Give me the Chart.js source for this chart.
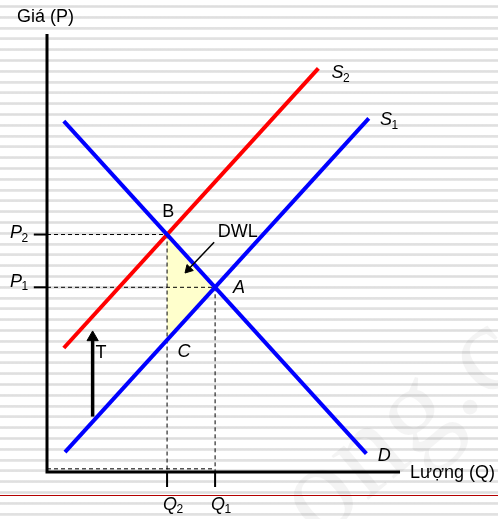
<!DOCTYPE html>
<html>
<head>
<meta charset="utf-8">
<script src="https://cdn.jsdelivr.net/npm/chart.js@4.4.0/dist/chart.umd.min.js"></script>
<style>
  html, body { margin: 0; padding: 0; }
  body {
    width: 498px; height: 519px; overflow: hidden;
    background: repeating-linear-gradient(180deg, #fff 0px, #fff 5px, #e9e9e9 5px, #dedede 6.5px, #e9e9e9 8px, #fff 8px, #fff 10.8px);
  }
  #wrap { position: relative; width: 498px; height: 519px; }
</style>
</head>
<body>
<div id="wrap"><canvas id="tax-chart"></canvas></div>
<script>
// values (arbitrary units, Q across, P up)
const demandQ = [0.7, 13.3];
const demandP = [13.3, 0.7];
const supply1Q = [0.75, 13.4];
const supply1P = [0.75, 13.4];
const supply2Q = [0.7, 11.3];
const supply2P = [4.7, 15.3];

const quantities = [5, 7];   // Q2, Q1
const prices = [9, 7];       // P2, P1
const priceC = 5;            // point C (S1 at Q2)

const taxQ = 1.9;            // T arrow
const taxP = [2.1, 5.1];
const dwlArrowQ = [6.96, 5.89];
const dwlArrowP = [8.71, 7.68];

const qMax = 14.7;
const pMax = 16.6;

const pts = (xs, ys) => xs.map((x, i) => ({ x: x, y: ys[i] }));
const FONT = '"Liberation Sans", Arial, sans-serif';

function seg(data, color, width, dash) {
    return {
        data: data,
        borderColor: color,
        borderWidth: width,
        borderDash: dash || [],
        fill: false,
        clip: false,
        pointRadius: 0
    };
}

const [Q2, Q1] = quantities;
const [P2, P1] = prices;

const datasets = [
    // arrows
    Object.assign(seg(pts([taxQ, taxQ], taxP), "#000", 3.5), {
        pointRadius: [0, 6.5], pointStyle: "triangle", pointRotation: 0,
        pointBackgroundColor: "#000", pointBorderColor: "#000", pointBorderWidth: 1
    }),
    Object.assign(seg(pts(dwlArrowQ, dwlArrowP), "#000", 1.5), {
        pointRadius: [0, 5], pointStyle: "triangle", pointRotation: 223,
        pointBackgroundColor: "#000", pointBorderColor: "#000", pointBorderWidth: 1
    }),
    // curves
    seg(pts(demandQ, demandP), "#0000ff", 4),
    seg(pts(supply1Q, supply1P), "#0000ff", 4),
    seg(pts(supply2Q, supply2P), "#ff0000", 4),
    // little ticks on the axes
    seg(pts([-0.55, 0], [P2, P2]), "#000", 2),
    seg(pts([-0.55, 0], [P1, P1]), "#000", 2),
    seg(pts([Q2, Q2], [0, -0.57]), "#000", 2),
    seg(pts([Q1, Q1], [0, -0.57]), "#000", 2),
    // dashed guides
    seg(pts([0, Q2], [P2, P2]), "#000", 1, [4, 3]),
    seg(pts([0, Q1], [P1, P1]), "#000", 1, [4, 3]),
    seg(pts([Q2, Q2], [P2, 0]), "#000", 1, [4, 3]),
    seg(pts([Q1, Q1], [P1, 0]), "#000", 1, [4, 3]),
    seg(pts([0, Q1], [0.12, 0.12]), "#000", 1, [4, 3]),
    // axes
    Object.assign(seg([{ x: 0, y: pMax }, { x: 0, y: 0 }, { x: qMax, y: 0 }], "#000", 3), {
        borderJoinStyle: "miter"
    }),
    // deadweight loss triangle B-A-C
    Object.assign(seg(pts(quantities, prices), "rgba(0,0,0,0)", 0), {
        fill: "+1", backgroundColor: "#ffffcc"
    }),
    seg(pts(quantities, [priceC, P1]), "rgba(0,0,0,0)", 0)
];

// text on the diagram, anchored in data units
const labelSpots = [
    { text: "Giá (P)", q: -1.25, p: 17.23, align: "left" },
    { text: "Lượng (Q)", q: 15.12, p: -0.04, align: "left" },
    { text: "B", q: 5.05, p: 9.85 },
    { text: "DWL", q: 7.94, p: 9.11 },
    { text: "A", q: 8.0, p: 6.97, italic: true },
    { text: "C", q: 5.71, p: 4.55, italic: true },
    { text: "T", q: 2.25, p: 4.5 },
    { text: "D", q: 14.04, p: 0.6, italic: true },
    { text: "S", sub: "2", q: 12.1, p: 15.11, italic: true },
    { text: "S", sub: "1", q: 14.12, p: 13.33, italic: true },
    { text: "P", sub: "2", q: -1.29, p: 9.05, italic: true },
    { text: "P", sub: "1", q: -1.29, p: 7.2, italic: true },
    { text: "Q", sub: "2", q: 5.12, p: -1.25, italic: true },
    { text: "Q", sub: "1", q: 7.12, p: -1.25, italic: true }
];

const backdrop = {
    id: "backdrop",
    beforeDraw(chart) {
        const ctx = chart.ctx;
        ctx.save();
        // faint watermark
        ctx.translate(318, 542);
        ctx.rotate(-40 * Math.PI / 180);
        ctx.font = '125px "Liberation Serif", serif';
        ctx.fillStyle = "rgba(0,0,0,0.045)";
        ctx.textBaseline = "alphabetic";
        ctx.fillText("ong.c", 0, 0);
        ctx.restore();
        // thin red rule under the axis
        ctx.save();
        ctx.fillStyle = "#b40000";
        ctx.fillRect(0, chart.height - 24, chart.width, 1);
        ctx.restore();
    }
};

const diagramText = {
    id: "diagramText",
    afterDatasetsDraw(chart) {
        const ctx = chart.ctx;
        const xs = chart.scales.x, ys = chart.scales.y;
        ctx.save();
        ctx.fillStyle = "#000";
        ctx.textBaseline = "middle";
        labelSpots.forEach(l => {
            const x = xs.getPixelForValue(l.q);
            const y = ys.getPixelForValue(l.p);
            ctx.font = (l.italic ? "italic " : "") + "18px " + FONT;
            const w = ctx.measureText(l.text).width;
            const left = l.align === "left" ? x : x - w / 2;
            ctx.textAlign = "left";
            ctx.fillText(l.text, left, y);
            if (l.sub) {
                ctx.font = "12px " + FONT;
                ctx.fillText(l.sub, left + w - 0.5, y + 5);
            }
        });
        ctx.restore();
    }
};

new Chart("tax-chart", {
    type: "line",
    data: { datasets: datasets },
    options: {
        responsive: true,
        maintainAspectRatio: false,
        animation: false,
        events: [],
        layout: { padding: { left: 47, top: 34, right: 98, bottom: 47 } },
        scales: {
            x: { type: "linear", min: 0, max: qMax, display: false },
            y: { type: "linear", min: 0, max: pMax, display: false }
        },
        elements: { line: { tension: 0, borderCapStyle: "butt" }, point: { radius: 0 } },
        plugins: {
            legend: { display: false },
            tooltip: { enabled: false },
            filler: { drawTime: "beforeDatasetsDraw" }
        }
    },
    plugins: [backdrop, diagramText]
});
</script>
</body>
</html>
